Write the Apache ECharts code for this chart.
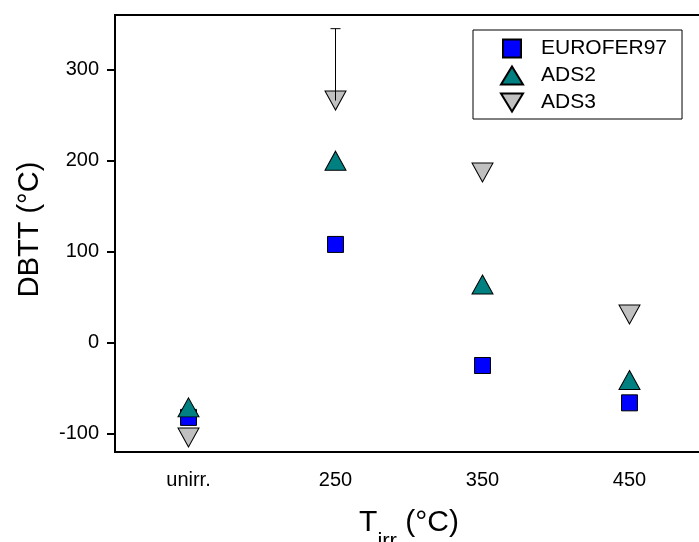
<!DOCTYPE html>
<html>
<head>
<meta charset="utf-8">
<script src="https://cdn.jsdelivr.net/npm/echarts@6/dist/echarts.min.js"></script>
<style>html,body{margin:0;padding:0;background:#fff}#c{width:699px;height:542px}</style>
</head>
<body>
<div id="c"></div>
<script>
var categories = ['unirr.', '250', '350', '450'];
var eurofer97 = [-82, 108, -25, -66];
var ads2 = [-71, 200, 64, -41];
var ads3 = [-104, 266, 187, 31];
var ads3ErrorUpper = [null, 345, null, null];
var yTicks = [-100, 0, 100, 200, 300];

var FONT = 'Arial, "Liberation Sans", sans-serif';
var errData = [];
ads3ErrorUpper.forEach(function (u, i) { if (u != null) errData.push([i, ads3[i], u]); });

var chart = echarts.init(document.getElementById('c'), null, {renderer: 'canvas'});
chart.setOption({
  animation: false,
  backgroundColor: '#fff',
  textStyle: {fontFamily: FONT},
  grid: {left: 115, top: 15, width: 588, height: 437, show: true, borderColor: '#000', borderWidth: 2, containLabel: false, outerBoundsMode: 'none'},
  legend: {
    orient: 'vertical', left: 473, top: 30,
    padding: [8, 15, 6, 27],
    borderColor: '#000', borderWidth: 1,
    itemWidth: 22, itemHeight: 18, itemGap: 6,
    textStyle: {fontSize: 21, lineHeight: 21, color: '#000', fontFamily: FONT, padding: [0, 0, 0, 13]},
    data: [
      {name: 'EUROFER97', icon: 'path://M0,0L16,0L16,16L0,16Z'},
      {name: 'ADS2', icon: 'path://M11,0L22,18L0,18Z'},
      {name: 'ADS3', icon: 'path://M0,0L22,0L11,18Z'}
    ]
  },
  xAxis: {
    type: 'category', data: categories, boundaryGap: true,
    axisLine: {onZero: false, lineStyle: {color: '#000', width: 2}},
    axisTick: {alignWithLabel: true, length: 9, lineStyle: {color: '#000', width: 2}},
    axisLabel: {fontSize: 20, color: '#000', margin: 18, fontFamily: FONT},
    splitLine: {show: false},
    name: '{a|T}{b|irr}{a| (°C)}', nameLocation: 'middle', nameGap: 56,
    nameTextStyle: {
      rich: {
        a: {fontSize: 30, lineHeight: 36, verticalAlign: 'top', color: '#000', fontFamily: FONT},
        b: {fontSize: 22, lineHeight: 22, verticalAlign: 'top', padding: [23, 0, 0, 0], color: '#000', fontFamily: FONT}
      }
    }
  },
  yAxis: {
    type: 'value', min: -120, max: 360,
    axisLine: {show: true, lineStyle: {color: '#000', width: 2}},
    axisTick: {show: true, length: 8, customValues: yTicks, lineStyle: {color: '#000', width: 2}},
    axisLabel: {fontSize: 20, color: '#000', margin: 16, customValues: yTicks, fontFamily: FONT},
    splitLine: {show: false},
    name: 'DBTT (°C)', nameLocation: 'middle', nameGap: 71,
    nameTextStyle: {fontSize: 29, color: '#000', fontFamily: FONT, padding: [0, 0, 0, 8]}
  },
  series: [
    {
      name: 'EUROFER97', type: 'scatter', data: eurofer97, symbol: 'rect', symbolSize: 16, z: 3,
      itemStyle: {color: '#0000FF', borderColor: '#000', borderWidth: 1, opacity: 1}
    },
    {
      name: 'ADS3', type: 'scatter', data: ads3, symbol: 'triangle', symbolSize: [21, 19], symbolRotate: 180, z: 2,
      itemStyle: {color: '#C0C0C0', borderColor: '#000', borderWidth: 1, opacity: 1}
    },
    {
      name: 'ADS2', type: 'scatter', data: ads2, symbol: 'triangle', symbolSize: [21, 19], z: 4,
      itemStyle: {color: '#008080', borderColor: '#000', borderWidth: 1, opacity: 1}
    },
    {
      name: 'err', type: 'custom', data: errData, z: 5,
      encode: {x: 0, y: [1, 2]},
      renderItem: function (params, api) {
        var p0 = api.coord([api.value(0), api.value(1)]);
        var p1 = api.coord([api.value(0), api.value(2)]);
        var hw = 5;
        return {
          type: 'group',
          children: [
            {type: 'line', shape: {x1: p0[0], y1: p0[1], x2: p1[0], y2: p1[1]}, style: {stroke: '#000', lineWidth: 1}},
            {type: 'line', shape: {x1: p1[0] - hw, y1: p1[1], x2: p1[0] + hw, y2: p1[1]}, style: {stroke: '#000', lineWidth: 1}}
          ]
        };
      }
    }
  ]
});
</script>
</body>
</html>
